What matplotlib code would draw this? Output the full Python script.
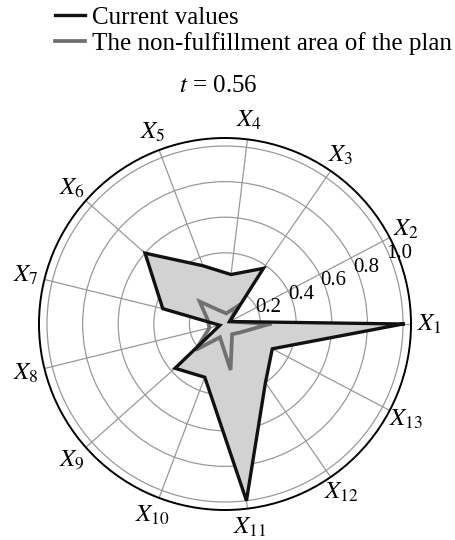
import numpy as np
import matplotlib
matplotlib.use("Agg")
import matplotlib.pyplot as plt
from matplotlib.transforms import ScaledTranslation

plt.rcParams['font.family'] = ['Liberation Serif', 'DejaVu Serif']
plt.rcParams['mathtext.fontset'] = 'stix'

# indicator names and values
labels = ['$X_{%d}$' % i for i in range(1, 14)]
current = [1.0, 0.03, 0.38, 0.28, 0.35, 0.60, 0.36, 0.03, 0.375, 0.32, 1.0, 0.40, 0.30]
plan_gap = [0.25, 0.03, 0.12, 0.06, 0.08, 0.19, 0.10, 0.09, 0.22, 0.08, 0.26, 0.07, 0.10]
r_ticks = [0.2, 0.4, 0.6, 0.8, 1.0]
t_value = 0.56

n = len(labels)
angles = np.linspace(0, 2 * np.pi, n, endpoint=False)
ang_c = np.append(angles, angles[0])
cur_c = np.append(current, current[0])
gap_c = np.append(plan_gap, plan_gap[0])

fig = plt.figure(figsize=(4.56, 5.40), dpi=100)
ax = fig.add_axes([39 / 456, 30 / 540, 372 / 456, 372 / 540], projection='polar')

ax.fill(ang_c, cur_c, color='#d2d2d2', zorder=2)
l1, = ax.plot(ang_c, cur_c, color='#111111', lw=2.4, zorder=4,
              solid_joinstyle='miter', label='Current values')
l2, = ax.plot(ang_c, gap_c, color='#707070', lw=2.7, zorder=3,
              solid_joinstyle='miter', label='The non-fulfillment area of the plan')

ax.set_ylim(0, 1.045)
ax.set_xticks(angles)
ax.set_xticklabels([])
ax.set_rgrids(r_ticks, labels=['%.1f' % r for r in r_ticks], angle=22.5,
              fontsize=15)
ax.grid(True, color='#999999', lw=0.9)
ax.spines['polar'].set_color('black')
ax.spines['polar'].set_linewidth(1.4)
ax.tick_params(axis='y', pad=0)
# nudge the radial tick labels a little below the spoke
shift = ScaledTranslation(-3 / 100, -7 / 100, fig.dpi_scale_trans)
for tl in ax.get_yticklabels():
    tl.set_transform(tl.get_transform() + shift)

for a, lab in zip(angles, labels):
    ax.text(a, 1.15, lab, fontsize=18, ha='center', va='center', clip_on=False)

fig.text(218 / 456, 1 - 86 / 540, '$t$ = %g' % t_value,
         fontsize=18, ha='center', va='center')

fig.legend(handles=[l1, l2], loc='upper left', bbox_to_anchor=(53 / 456, 1 - 4 / 540),
           frameon=False, fontsize=18, handlelength=1.2, handletextpad=0.28,
           labelspacing=0.12, borderpad=0.1, borderaxespad=0)

fig.savefig('out.png', dpi=100)
